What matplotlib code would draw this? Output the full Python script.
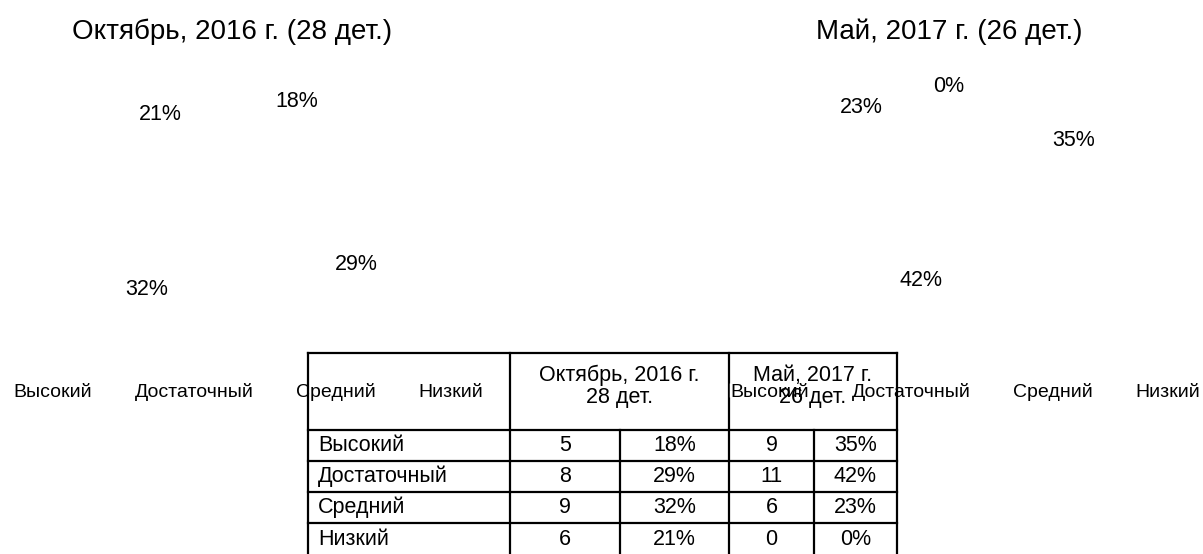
import matplotlib.pyplot as plt
from matplotlib.patches import Patch

W, H = 1203, 554

categories = ['Высокий', 'Достаточный', 'Средний', 'Низкий']
oct_counts = [5, 8, 9, 6]
may_counts = [9, 11, 6, 0]
pie_titles = ['Октябрь, 2016 г. (28 дет.)', 'Май, 2017 г. (26 дет.)']
table_headers = ['Октябрь, 2016 г.\n28 дет.', 'Май, 2017 г.\n26 дет.']
oct_pct = ['18%', '29%', '32%', '21%']
may_pct = ['35%', '42%', '23%', '0%']

plt.rcParams['font.family'] = ['Liberation Sans Narrow', 'Liberation Sans', 'DejaVu Sans']

fig = plt.figure(figsize=(W / 100, H / 100), dpi=100)


def px_axes(cx, cy, w, h):
    return fig.add_axes([(cx - w / 2) / W, 1 - (cy + h / 2) / H, w / W, h / H])


def draw_pie(cx, cy, counts, title, radii):
    ax = px_axes(cx, cy, 300, 300)
    wedges, texts, autotexts = ax.pie(
        counts, startangle=90, counterclock=False, radius=1, pctdistance=1.0,
        autopct=lambda p: f'{p:.0f}%',
        wedgeprops=dict(facecolor='white', edgecolor='white'),
        textprops=dict(fontsize=15.5, color='black'))
    # excel "best fit" puts some labels closer / further from the centre
    for t, k in zip(autotexts, radii):
        x, y = t.get_position()
        t.set_position((x * k, y * k))
    ax.set_xlim(-1.25, 1.25)
    ax.set_ylim(-1.25, 1.25)
    ax.set_axis_off()
    fig.text(cx / W, 1 - 32 / H, title, fontsize=20, ha='center', va='center')


draw_pie(232, 205, oct_counts, pie_titles[0], [1.02, 1.15, 1.0, 0.96])
draw_pie(949, 206, may_counts, pie_titles[1], [1.17, 0.66, 1.1, 1.0])

# legends (markers are white, so only the names show)
handles = [Patch(facecolor='white', edgecolor='white') for _ in categories]
for x0 in (13, 730):
    fig.legend(handles, categories, ncol=4, loc='center left',
               bbox_to_anchor=(x0 / W, 1 - 392 / H), frameon=False,
               fontsize=14, handlelength=0, handletextpad=0,
               columnspacing=2.2, borderpad=0, borderaxespad=0)

# table in pixel coordinates
tab = fig.add_axes([0, 0, 1, 1], zorder=3)
tab.set_xlim(0, W)
tab.set_ylim(H, 0)
tab.set_axis_off()
tab.patch.set_alpha(0)

col_x = [308, 510, 620, 729, 814, 897]
row_y = [353, 430, 461, 492, 523, 556]
lw = 1.6

for y in row_y:
    tab.plot([col_x[0], col_x[-1]], [y, y], color='black', lw=lw, solid_capstyle='projecting')
for x in (col_x[0], col_x[1], col_x[3], col_x[5]):
    tab.plot([x, x], [row_y[0], row_y[-1]], color='black', lw=lw, solid_capstyle='projecting')
for x in (col_x[2], col_x[4]):
    tab.plot([x, x], [row_y[1], row_y[-1]], color='black', lw=lw, solid_capstyle='projecting')

hy = (row_y[0] + row_y[1]) / 2 - 5
tab.text((col_x[1] + col_x[3]) / 2, hy, table_headers[0], ha='center', va='center',
         fontsize=15.5, linespacing=1.05)
tab.text((col_x[3] + col_x[5]) / 2, hy, table_headers[1], ha='center', va='center',
         fontsize=15.5, linespacing=1.05)

columns = [oct_counts, oct_pct, may_counts, may_pct]
for i, cat in enumerate(categories):
    yc = (row_y[i + 1] + row_y[i + 2]) / 2
    tab.text(col_x[0] + 10, yc, cat, ha='left', va='center', fontsize=15.5)
    for j, col in enumerate(columns):
        tab.text((col_x[j + 1] + col_x[j + 2]) / 2, yc, str(col[i]),
                 ha='center', va='center', fontsize=15.5)

fig.savefig('out.png', dpi=100, facecolor='white')
